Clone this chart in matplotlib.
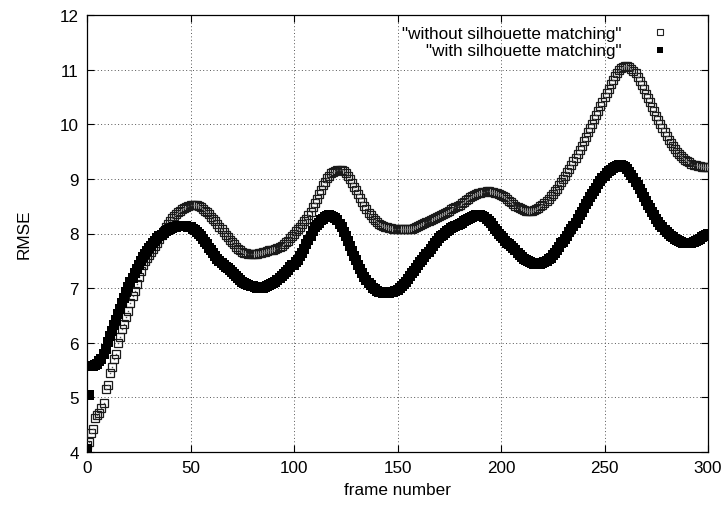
import matplotlib
matplotlib.use("Agg")
import matplotlib.pyplot as plt

plt.rcParams['font.family'] = ['Liberation Sans', 'DejaVu Sans']

# RMSE per frame (frames 0..300)
without_matching = [
    4.12, 4.18, 4.35, 4.42, 4.62, 4.68, 4.72, 4.80, 4.90, 5.15,
    5.22, 5.45, 5.55, 5.70, 5.80, 6.00, 6.10, 6.25, 6.35, 6.48,
    6.58, 6.72, 6.85, 6.95, 7.08, 7.20, 7.32, 7.42, 7.50, 7.56,
    7.60, 7.66, 7.72, 7.77, 7.82, 7.90, 7.97, 8.05, 8.12, 8.18,
    8.23, 8.28, 8.32, 8.36, 8.39, 8.42, 8.45, 8.47, 8.49, 8.51,
    8.52, 8.53, 8.53, 8.52, 8.50, 8.48, 8.45, 8.42, 8.39, 8.35,
    8.31, 8.27, 8.22, 8.17, 8.12, 8.08, 8.03, 7.98, 7.93, 7.88,
    7.84, 7.80, 7.76, 7.72, 7.69, 7.67, 7.65, 7.64, 7.63, 7.63,
    7.62, 7.62, 7.63, 7.64, 7.65, 7.66, 7.67, 7.68, 7.69, 7.69,
    7.70, 7.72, 7.74, 7.76, 7.78, 7.81, 7.84, 7.87, 7.91, 7.95,
    8.00, 8.04, 8.08, 8.12, 8.17, 8.22, 8.27, 8.33, 8.40, 8.48,
    8.56, 8.64, 8.72, 8.80, 8.88, 8.95, 9.01, 9.06, 9.10, 9.13,
    9.15, 9.16, 9.16, 9.16, 9.14, 9.11, 9.06, 9.00, 8.93, 8.86,
    8.79, 8.72, 8.65, 8.57, 8.50, 8.44, 8.38, 8.33, 8.28, 8.24,
    8.21, 8.18, 8.15, 8.13, 8.12, 8.11, 8.10, 8.10, 8.09, 8.09,
    8.09, 8.09, 8.08, 8.08, 8.08, 8.08, 8.08, 8.09, 8.10, 8.12,
    8.14, 8.15, 8.17, 8.19, 8.21, 8.23, 8.25, 8.27, 8.29, 8.30,
    8.32, 8.34, 8.36, 8.38, 8.40, 8.42, 8.44, 8.46, 8.48, 8.50,
    8.52, 8.55, 8.58, 8.61, 8.64, 8.67, 8.69, 8.71, 8.73, 8.74,
    8.75, 8.76, 8.76, 8.77, 8.77, 8.76, 8.76, 8.75, 8.74, 8.72,
    8.70, 8.68, 8.66, 8.63, 8.60, 8.57, 8.54, 8.51, 8.48, 8.46,
    8.44, 8.43, 8.42, 8.41, 8.41, 8.42, 8.43, 8.45, 8.47, 8.50,
    8.52, 8.56, 8.60, 8.64, 8.68, 8.72, 8.77, 8.82, 8.88, 8.94,
    9.00, 9.06, 9.12, 9.18, 9.25, 9.32, 9.39, 9.46, 9.53, 9.61,
    9.69, 9.77, 9.85, 9.93, 10.01, 10.09, 10.17, 10.25, 10.33, 10.41,
    10.49, 10.57, 10.65, 10.73, 10.81, 10.88, 10.94, 10.99, 11.03, 11.05,
    11.07, 11.06, 11.05, 11.02, 10.98, 10.93, 10.87, 10.80, 10.72, 10.64,
    10.56, 10.48, 10.40, 10.32, 10.24, 10.16, 10.08, 10.00, 9.93, 9.86,
    9.79, 9.72, 9.66, 9.60, 9.55, 9.50, 9.46, 9.42, 9.38, 9.35,
    9.32, 9.30, 9.28, 9.26, 9.25, 9.24, 9.23, 9.22, 9.22, 9.22,
    9.22,
]

with_matching = [
    4.05, 5.05, 5.58, 5.58, 5.60, 5.62, 5.66, 5.71, 5.80, 5.88,
    6.02, 6.12, 6.22, 6.32, 6.42, 6.52, 6.62, 6.72, 6.82, 6.92,
    7.02, 7.11, 7.19, 7.27, 7.35, 7.43, 7.50, 7.57, 7.63, 7.68,
    7.73, 7.78, 7.83, 7.87, 7.91, 7.95, 7.98, 8.01, 8.04, 8.06,
    8.08, 8.10, 8.11, 8.12, 8.13, 8.14, 8.14, 8.14, 8.13, 8.12,
    8.11, 8.09, 8.06, 8.03, 7.99, 7.95, 7.90, 7.85, 7.80, 7.74,
    7.69, 7.64, 7.59, 7.54, 7.50, 7.46, 7.42, 7.39, 7.36, 7.33,
    7.30, 7.26, 7.22, 7.18, 7.14, 7.11, 7.09, 7.07, 7.05, 7.04,
    7.03, 7.02, 7.01, 7.01, 7.01, 7.01, 7.02, 7.03, 7.05, 7.07,
    7.09, 7.12, 7.15, 7.18, 7.22, 7.26, 7.30, 7.34, 7.38, 7.42,
    7.42, 7.47, 7.52, 7.58, 7.65, 7.72, 7.80, 7.88, 7.96, 8.04,
    8.11, 8.16, 8.20, 8.24, 8.27, 8.30, 8.32, 8.33, 8.32, 8.30,
    8.28, 8.24, 8.18, 8.11, 8.03, 7.95, 7.86, 7.77, 7.68, 7.59,
    7.51, 7.43, 7.35, 7.28, 7.21, 7.15, 7.10, 7.05, 7.01, 6.98,
    6.95, 6.93, 6.92, 6.91, 6.91, 6.91, 6.91, 6.92, 6.93, 6.95,
    6.97, 7.00, 7.03, 7.07, 7.12, 7.17, 7.22, 7.27, 7.32, 7.37,
    7.42, 7.47, 7.52, 7.57, 7.62, 7.67, 7.72, 7.77, 7.82, 7.87,
    7.91, 7.95, 7.98, 8.01, 8.04, 8.07, 8.10, 8.12, 8.14, 8.16,
    8.18, 8.20, 8.22, 8.24, 8.26, 8.28, 8.30, 8.32, 8.33, 8.33,
    8.33, 8.32, 8.30, 8.27, 8.23, 8.19, 8.14, 8.09, 8.04, 7.99,
    7.95, 7.91, 7.87, 7.83, 7.80, 7.77, 7.73, 7.69, 7.65, 7.61,
    7.57, 7.54, 7.51, 7.49, 7.47, 7.46, 7.45, 7.45, 7.45, 7.45,
    7.46, 7.48, 7.50, 7.53, 7.56, 7.60, 7.64, 7.69, 7.75, 7.82,
    7.84, 7.90, 7.96, 8.02, 8.08, 8.14, 8.20, 8.26, 8.33, 8.40,
    8.47, 8.54, 8.60, 8.66, 8.72, 8.78, 8.84, 8.90, 8.96, 9.01,
    9.06, 9.10, 9.14, 9.17, 9.20, 9.22, 9.24, 9.25, 9.25, 9.24,
    9.22, 9.18, 9.13, 9.08, 9.02, 8.95, 8.88, 8.81, 8.74, 8.67,
    8.60, 8.53, 8.46, 8.39, 8.33, 8.27, 8.21, 8.16, 8.11, 8.07,
    8.03, 7.99, 7.96, 7.93, 7.90, 7.88, 7.86, 7.84, 7.83, 7.82,
    7.82, 7.82, 7.83, 7.84, 7.86, 7.88, 7.90, 7.93, 7.95, 7.97,
    7.99,
]

frames = list(range(len(without_matching)))

x_ticks = [0, 50, 100, 150, 200, 250, 300]
y_ticks = [4, 5, 6, 7, 8, 9, 10, 11, 12]

FS = 12.3

fig = plt.figure(figsize=(7.27, 5.10), dpi=100)
ax = fig.add_axes([87 / 727, (510 - 453) / 510, 621 / 727, 437 / 510])

# open squares first, filled ones drawn over them (gnuplot order)
ax.plot(frames, without_matching, linestyle='none', marker='s', markersize=5.8,
        markerfacecolor='none', markeredgecolor='#1a1a1a', markeredgewidth=0.9,
        zorder=3)
ax.plot(frames, without_matching, linestyle='none', marker='s', markersize=1.0,
        color='#555555', markeredgewidth=0, zorder=3)
ax.plot(frames, with_matching, linestyle='none', marker='s', markersize=6.6,
        color='black', markeredgewidth=0, zorder=4)

ax.set_xlim(0, 300)
ax.set_ylim(4, 12)
ax.set_xticks(x_ticks)
ax.set_yticks(y_ticks)
ax.tick_params(direction='in', length=5, width=0.8, top=True, right=True,
               labelsize=FS, pad=6)
ax.grid(True, color='#555555', linestyle=(0, (1, 2.5)), linewidth=0.7)
for sp in ax.spines.values():
    sp.set_linewidth(0.9)

ax.set_xlabel('frame number', fontsize=FS, labelpad=5)
ax.set_ylabel('RMSE', fontsize=FS, labelpad=20)

# legend: text right aligned, sample on the right, no frame
h1, = ax.plot([], [], linestyle='none', marker='s', markersize=4.6,
              markerfacecolor='white', markeredgecolor='#222222', markeredgewidth=0.8)
h2, = ax.plot([], [], linestyle='none', marker='s', markersize=4.8,
              color='black', markeredgewidth=0)
leg = ax.legend([h1, h2], ['"without silhouette matching"', '"with silhouette matching"'],
                loc='upper right', bbox_to_anchor=(0.936, 0.975), frameon=False,
                markerfirst=False, fontsize=FS, handlelength=1.0,
                handletextpad=1.73, labelspacing=0.15, borderpad=0, borderaxespad=0)
leg.set_zorder(5)

fig.savefig('out.png', dpi=100)
